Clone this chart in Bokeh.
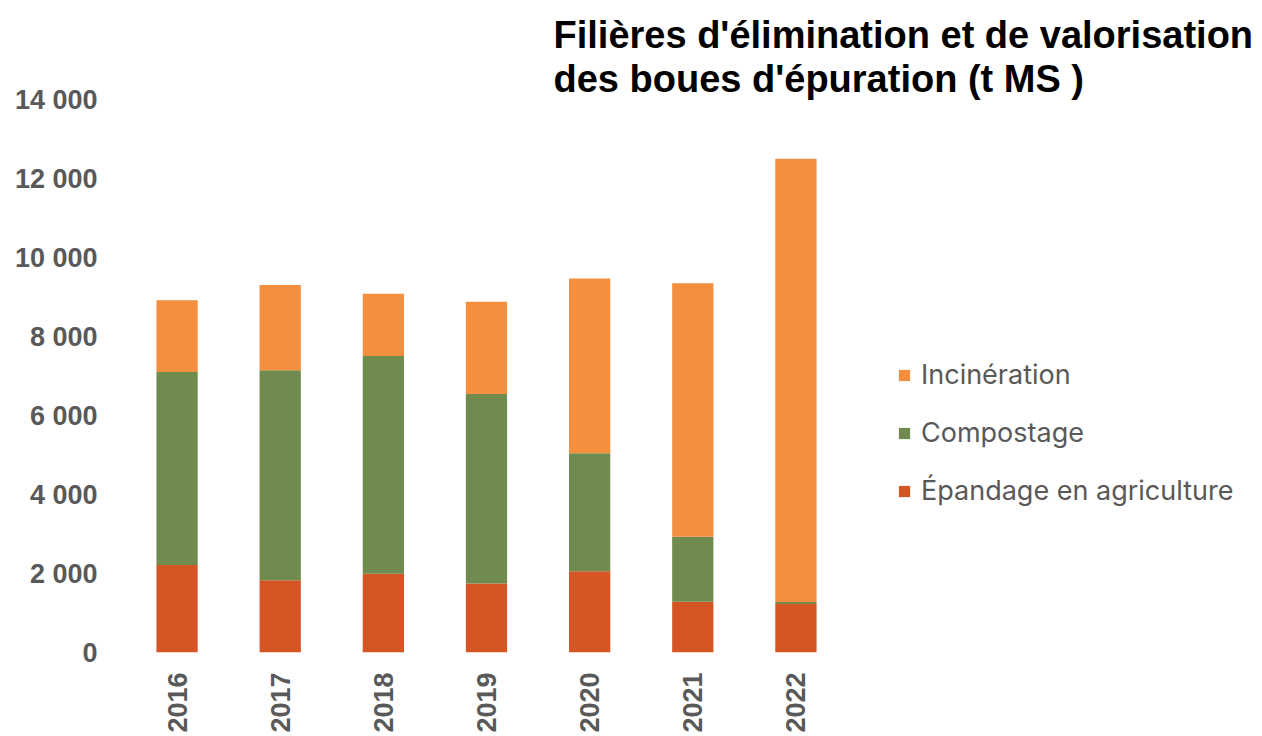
from math import pi
from bokeh.plotting import figure
from bokeh.models import FactorRange, Range1d, Legend, LegendItem, Title, ColumnDataSource
from bokeh.embed import file_html
from bokeh.resources import INLINE

years = ["2016", "2017", "2018", "2019", "2020", "2021", "2022"]
epandage = [2213, 1826, 1993, 1750, 2054, 1285, 1230]
compostage = [4889, 5319, 5513, 4795, 2991, 1644, 47]
incineration = [1813, 2157, 1578, 2337, 4426, 6416, 11222]
series_keys = ["epandage", "compostage", "incineration"]
series_names = ["Épandage en agriculture", "Compostage", "Incinération"]
series_colors = ["#D65524", "#6F8C4E", "#F38F3E"]
y_ticks = [0, 2000, 4000, 6000, 8000, 10000, 12000, 14000]
y_tick_labels = ["0", "2 000", "4 000", "6 000", "8 000", "10 000", "12 000", "14 000"]
title_lines = ["Filières d'élimination et de valorisation", "des boues d'épuration (t MS )"]

src = ColumnDataSource(dict(years=years, epandage=epandage,
                            compostage=compostage, incineration=incineration))

p = figure(x_range=FactorRange(*years), y_range=Range1d(0, 14000),
           frame_width=722, frame_height=553, output_backend="svg", toolbar_location=None,
           min_border_left=125, min_border_top=99, min_border_bottom=84,
           min_border_right=0)
p.outline_line_color = None
p.grid.grid_line_color = None
p.background_fill_color = "white"

renderers = p.vbar_stack(series_keys, x="years", width=0.4, source=src,
                         fill_color=series_colors, line_color=None)

GRAY = "#595959"
for ax in (p.xaxis, p.yaxis):
    ax.axis_line_color = None
    ax.major_tick_line_color = None
    ax.minor_tick_line_color = None
    ax.major_tick_in = 0
    ax.major_tick_out = 0
    ax.minor_tick_in = 0
    ax.minor_tick_out = 0
    ax.major_label_text_font = "Liberation Sans"
    ax.major_label_text_font_style = "bold"
    ax.major_label_text_color = GRAY

p.yaxis.ticker = y_ticks
p.yaxis.major_label_overrides = dict(zip(y_ticks, y_tick_labels))
p.yaxis.major_label_text_font_size = "27px"
p.yaxis.major_label_standoff = 28

p.xaxis.major_label_orientation = pi / 2
p.xaxis.major_label_text_font_size = "27px"
p.xaxis.major_label_standoff = 20

items = [LegendItem(label=series_names[i], renderers=[renderers[i]]) for i in (2, 1, 0)]
legend = Legend(items=items, location=(50, 145), orientation="vertical",
                glyph_width=14, glyph_height=14, label_height=32, spacing=25,
                label_standoff=10, padding=0, margin=0,
                label_text_font="Inter", label_text_font_size="27px",
                label_text_color=GRAY, border_line_color=None,
                background_fill_alpha=0)
p.add_layout(legend, "right")

for txt in reversed(title_lines):
    p.add_layout(Title(text=txt, align="left", offset=428, standoff=0,
                       text_font="Liberation Sans", text_font_style="bold",
                       text_font_size="38px", text_color="black"), "above")

open("out.html", "w").write(file_html(p, INLINE))
